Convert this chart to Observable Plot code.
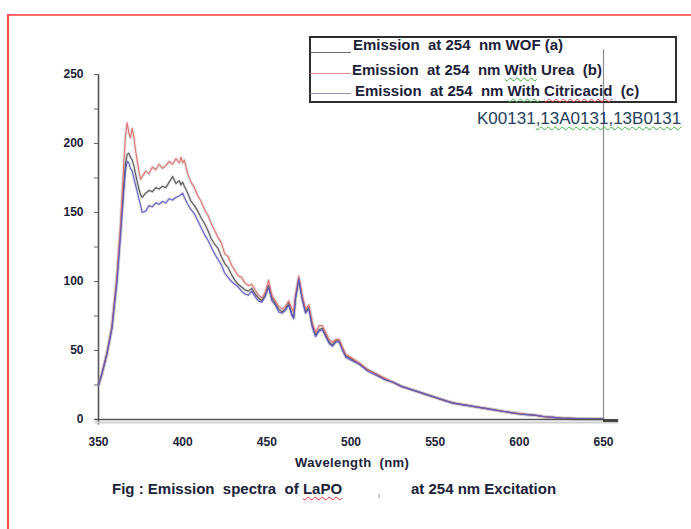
<!DOCTYPE html>
<html>
<head>
<meta charset="utf-8">
<script src="https://cdn.jsdelivr.net/npm/d3@7"></script>
<script src="https://cdn.jsdelivr.net/npm/@observablehq/plot@0.6"></script>
<style>
  html, body { margin: 0; padding: 0; background: #fff; }
  #wrap { position: relative; width: 691px; height: 529px; overflow: hidden; font-family: "Liberation Sans", Arial, sans-serif; }
  #wrap svg { position: absolute; left: 0; top: 0; }
  .t { position: absolute; white-space: pre; color: #1b2238; }
  .b { font-weight: bold; }
  .gw { text-decoration: underline wavy #3bb33b; text-decoration-thickness: 1px; text-underline-offset: 2px; }
  .rw { text-decoration: underline wavy #e03030; text-decoration-thickness: 1px; text-underline-offset: 2px; }
</style>
</head>
<body>
<div id="wrap"></div>
<script>
// Wavelength (nm)
const wavelength = [350,352,355,358,361,363,365,366,367,368,
  369,370,371,372,374,375,376,378,380,382,
  384,386,388,390,392,394,396,398,399,400,
  401,403,405,407,409,411,413,415,417,419,
  421,423,425,427,429,431,433,435,437,439,
  441,443,445,447,449,451,453,455,457,459,
  461,463,465,466,467,469,471,473,475,477,
  479,481,483,485,487,489,491,493,495,497,
  500,505,510,515,520,525,530,535,540,545,
  550,555,560,565,570,575,580,585,590,595,
  600,605,610,615,620,625,630,635,640,645,
  650];

// Emission at 254 nm WOF (a)
const wof = [25,33,48,67,102,135,170,185,192,193,
  190,188,184,178,167,163,161,164,166,165,
  168,167,169,168,172,176,171,173,170,172,
  169,164,158,155,151,146,142,137,131,127,
  124,118,113,110,105,101,98,96,94,93,
  95,91,88,86,90,97,88,84,80,78,
  80,84,76,74,88,101,88,78,81,68,
  61,65,66,61,56,54,57,57,51,46,
  44,40,36,33,29,27,24,22,20,18,
  16,14,12,11,10,9,8,7,6,5,
  4,3.5,3,2,1.5,1,0.8,0.6,0.5,0.4,
  0.3];

// Emission at 254 nm With Urea (b)
const urea = [25,33,48,68,105,140,185,205,215,208,
  204,211,205,195,180,174,176,180,178,183,
  181,185,182,184,187,185,189,186,190,186,
  188,178,172,168,162,158,152,148,142,137,
  132,128,120,118,112,108,104,103,99,97,
  98,94,90,88,92,101,90,86,82,80,
  82,86,80,78,90,104,90,80,83,70,
  63,68,68,63,58,56,58,58,52,47,
  45,41,36,33,30,27,24,22,20,18,
  16,14,12.5,11,10,9,8,7,6,5,
  4.5,3.5,3,2,1.5,1,0.8,0.6,0.5,0.4,
  0.3];

// Emission at 254 nm With Citricacid (c)
const citric = [25,33,47,66,100,132,165,180,187,186,
  182,180,175,170,160,155,150,151,155,154,
  157,156,158,157,160,159,161,162,163,164,
  161,156,152,149,144,139,134,130,125,120,
  116,112,106,103,100,98,96,93,91,90,
  93,89,86,85,89,96,86,83,78,77,
  79,83,75,73,87,102,87,77,80,67,
  60,64,65,60,55,53,56,56,50,45,
  43,40,35,32,29,27,24,22,20,18,
  16,14,12,11,10,9,8,7,6,5,
  4,3.5,3,2,1.5,1,0.8,0.6,0.5,0.4,
  0.3];

const seriesNames = ["WOF (a)", "With Urea (b)", "With Citricacid (c)"];
const seriesColors = ["#4d4d4d", "#e06a6a", "#5a55c8"];
const yMinorTicks = [0,25,50,75,100,125,150,175,200,225,250];
const yLabelTicks = [0,50,100,150,200,250];
const xLabelTicks = [350,400,450,500,550,600,650];

const seriesValues = [wof, urea, citric];
const data = seriesNames.flatMap((name, k) =>
  wavelength.map((w, i) => ({ w, v: seriesValues[k][i], s: name })));

const tickFill = "#1b2238";

const chart = Plot.plot({
  width: 691,
  height: 529,
  marginLeft: 98,
  marginRight: 88,
  marginTop: 74,
  marginBottom: 110,
  style: { background: "transparent", fontFamily: "'Liberation Sans', Arial, sans-serif", overflow: "visible" },
  x: { domain: [350, 650] },
  y: { domain: [0, 250] },
  color: { domain: seriesNames, range: seriesColors },
  marks: [
    Plot.ruleX([650], { y1: 0, y2: 268, stroke: "#8a8a8a", strokeWidth: 1.2 }),
    Plot.ruleX([350], { y1: -4, y2: 250, stroke: "#555", strokeWidth: 1.6 }),
    Plot.axisY({ ticks: yMinorTicks, tickSize: 4, tickFormat: () => "", stroke: "#666", label: null }),
    Plot.axisY({ ticks: yLabelTicks, tickSize: 0, tickPadding: 15, label: null,
      fontSize: 12, fontWeight: "bold", fill: tickFill }),
    Plot.axisX({ ticks: xLabelTicks, tickSize: 0, tickPadding: 18, label: null,
      fontSize: 12, fontWeight: "bold", fill: tickFill }),
    Plot.line(data, { x: "w", y: "v", z: "s", stroke: "#9a9a9a", strokeWidth: 3.5, strokeOpacity: 0.22 }),
    Plot.line(data, { x: "w", y: "v", z: "s", stroke: "s", strokeWidth: 1.2, strokeOpacity: 0.9 }),
    Plot.ruleY([0], { x1: 348, x2: 659, stroke: "#cfcfcf", strokeWidth: 2, dy: 3 }),
    Plot.ruleY([0], { x1: 348, x2: 650, stroke: "#555", strokeWidth: 1.6 }),
    Plot.ruleY([0], { x1: 650, x2: 659, stroke: "#444", strokeWidth: 3, dy: 1 })
  ]
});

const wrap = document.getElementById("wrap");
wrap.appendChild(chart);

function addText(html, left, top, size, cls, extra) {
  const d = document.createElement("div");
  d.className = "t " + (cls || "");
  d.style.left = left + "px";
  d.style.top = top + "px";
  d.style.fontSize = size + "px";
  d.style.lineHeight = size + "px";
  if (extra) Object.assign(d.style, extra);
  d.innerHTML = html;
  wrap.appendChild(d);
  return d;
}
function addBox(left, top, w, h, style) {
  const d = document.createElement("div");
  d.style.position = "absolute";
  d.style.left = left + "px";
  d.style.top = top + "px";
  d.style.width = w + "px";
  d.style.height = h + "px";
  Object.assign(d.style, style);
  wrap.appendChild(d);
  return d;
}

// red page frame
addBox(7, 14, 684, 2, { background: "#ff6b6b" });
addBox(7, 14, 2, 515, { background: "#ff4a4a" });

// legend
addBox(309, 36, 368, 67, { border: "2px solid #2e2e2e", boxSizing: "border-box" });
addBox(310, 52, 41, 1, { background: seriesColors[0], opacity: 0.8 });
addBox(310, 73, 41, 1, { background: seriesColors[1], opacity: 0.8 });
addBox(310, 93, 41, 1, { background: "#7a78a8", opacity: 0.8 });
addText("Emission  at 254  nm WOF (a)", 353, 37, 15, "b");
addText("Emission  at 254  nm <span class='gw'>With</span> Urea  (b)", 352, 62, 15, "b");
addText("Emission  at 254  nm <span class='gw'>With</span> <span class='rw'>Citricacid</span>  (c)", 355, 83, 15, "b");

// sample code text
addText("K00131<span class='gw'>,13A0131,13B0131</span>", 477, 110, 17, "", { color: "#24405c" });

// axis title and caption
addText("Wavelength  (nm)", 295, 456, 13, "b", { letterSpacing: "0.4px" });
addText("Fig : Emission  spectra  of <span class='rw'>LaPO</span>", 112, 481, 15, "b");
addText("at 254 nm Excitation", 411, 481, 15, "b");
addText("ı", 378, 492, 8, "", { color: "#888" });
</script>
</body>
</html>
